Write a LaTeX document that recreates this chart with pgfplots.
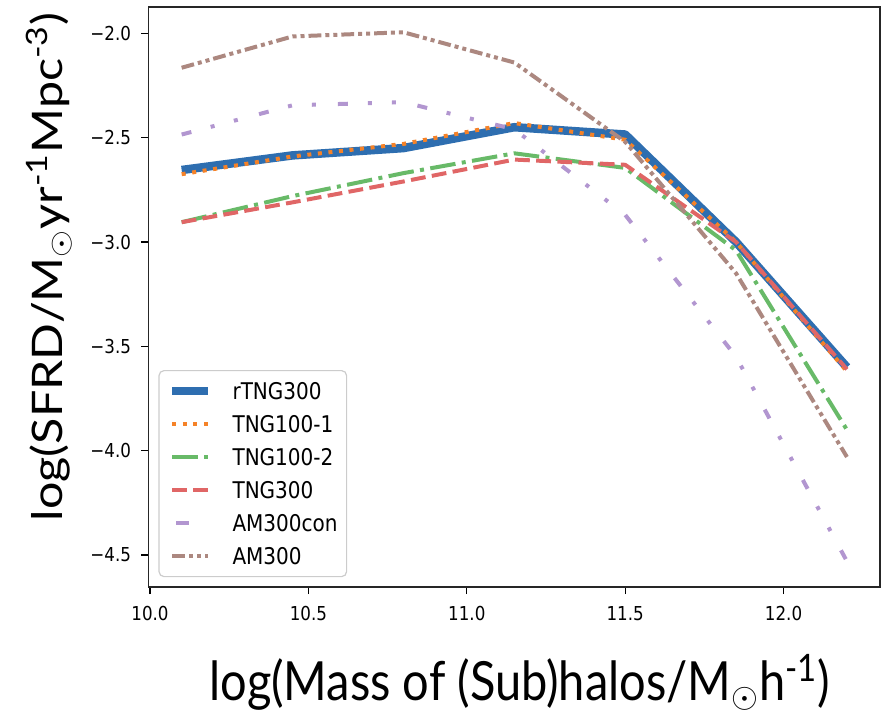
\documentclass[border=0pt]{standalone}
\usepackage{fontspec}
\setmainfont{DejaVu Sans}[FakeStretch=0.87]
\newfontfamily\labfont{Lato}[FakeStretch=0.87]
\newfontfamily\labfontn{Lato}
\usepackage{graphicx}
\usepackage{pgfplots}
\pgfplotsset{compat=1.18}

\definecolor{cblue}{RGB}{46,110,176}
\definecolor{corange}{RGB}{245,130,40}
\definecolor{cgreen}{RGB}{104,186,104}
\definecolor{cred}{RGB}{224,102,102}
\definecolor{cpurple}{RGB}{178,150,208}
\definecolor{cbrown}{RGB}{172,136,128}

\begin{document}
\begin{tikzpicture}
\path[use as bounding box] (-74.2pt,-65.4pt) rectangle (366.3pt,293.6pt);
\begin{axis}[
    at={(0,0)}, anchor=south west,
    scale only axis, width=365.9pt, height=290.2pt,
    xmin=9.995, xmax=12.305, ymin=-4.654, ymax=-1.873,
    xtick={10,10.5,11,11.5,12},
    xticklabels={10.0,10.5,11.0,11.5,12.0},
    ytick={-4.5,-4,-3.5,-3,-2.5,-2},
    yticklabels={−4.5,−4.0,−3.5,−3.0,−2.5,−2.0},
    xtick pos=bottom, ytick pos=left,
    tick align=outside, major tick length=3.5pt,
    tick style={black, line width=0.6pt},
    axis line style={black!85, line width=0.8pt},
    ticklabel style={font=\fontsize{9.6}{11}\selectfont, inner sep=0pt},
    xticklabel style={anchor=north, yshift=-6pt},
    yticklabel style={anchor=east, xshift=-5pt},
    xlabel={\labfont log(Mass of (Sub)halos/M$_\odot$h\textsuperscript{-1})},
    ylabel={\scalebox{1}[0.87]{\labfontn log(SFRD/M$_\odot$yr\textsuperscript{-1}Mpc\textsuperscript{-3})}},
    xlabel style={font=\fontsize{27}{30}\selectfont, at={(axis description cs:0.5075,0)}, anchor=base, yshift=-56.4pt},
    ylabel style={font=\fontsize{24.2}{29}\selectfont, at={(axis description cs:-0.1167,0.552)}, anchor=base},
    legend style={
        at={(0.0137,0.0172)}, anchor=south west,
        draw=black!20, line width=0.6pt, rounded corners=2.5pt,
        fill=white, fill opacity=0.8, text opacity=1, draw opacity=1,
        font=\fontsize{11.5}{13}\selectfont,
        inner xsep=4.5pt, inner ysep=6pt, row sep=8pt, column sep=10pt,
        nodes={inner sep=0pt, text height=8.5pt, text depth=0pt},
    },
    legend cell align=left,
    legend image code/.code={\draw[#1] (0pt,0pt) -- (18pt,0pt);},
]
\addplot[cblue, line width=4.25pt, line join=round, no markers] coordinates {
(10.1,-2.655) (10.45,-2.585) (10.8,-2.55) (11.15,-2.45) (11.5,-2.485) (11.85,-3.0) (12.2,-3.60)};
\addlegendentry{rTNG300}
\addplot[corange, line width=2pt, dash pattern=on 2pt off 3.3pt, no markers] coordinates {
(10.1,-2.675) (10.45,-2.59) (10.8,-2.53) (11.15,-2.43) (11.5,-2.51) (11.85,-3.0) (12.2,-3.62)};
\addlegendentry{TNG100-1}
\addplot[cgreen, line width=2pt, dash pattern=on 12.8pt off 3.2pt on 2pt off 3.2pt, no markers] coordinates {
(10.1,-2.905) (10.45,-2.78) (10.8,-2.67) (11.15,-2.575) (11.5,-2.645) (11.85,-3.04) (12.2,-3.90)};
\addlegendentry{TNG100-2}
\addplot[cred, line width=2pt, dash pattern=on 7.4pt off 3.2pt, no markers] coordinates {
(10.1,-2.905) (10.45,-2.81) (10.8,-2.71) (11.15,-2.605) (11.5,-2.63) (11.85,-3.0) (12.2,-3.61)};
\addlegendentry{TNG300}
\addplot[cpurple, line width=2pt, dash pattern=on 5pt off 10pt on 2pt off 10pt on 2pt off 11pt, no markers,
    legend image post style={dash pattern=on 6.5pt off 30pt, dash phase=-2pt}] coordinates {
(10.1,-2.485) (10.45,-2.345) (10.8,-2.33) (11.15,-2.46) (11.5,-2.87) (11.85,-3.55) (12.2,-4.53)};
\addlegendentry{AM300con}
\addplot[cbrown, line width=2pt, dash pattern=on 6.4pt off 2pt on 2pt off 2pt on 2pt off 2pt, no markers] coordinates {
(10.1,-2.165) (10.45,-2.015) (10.8,-1.995) (11.15,-2.14) (11.5,-2.52) (11.85,-3.15) (12.2,-4.03)};
\addlegendentry{AM300}
\end{axis}
\end{tikzpicture}
\end{document}
